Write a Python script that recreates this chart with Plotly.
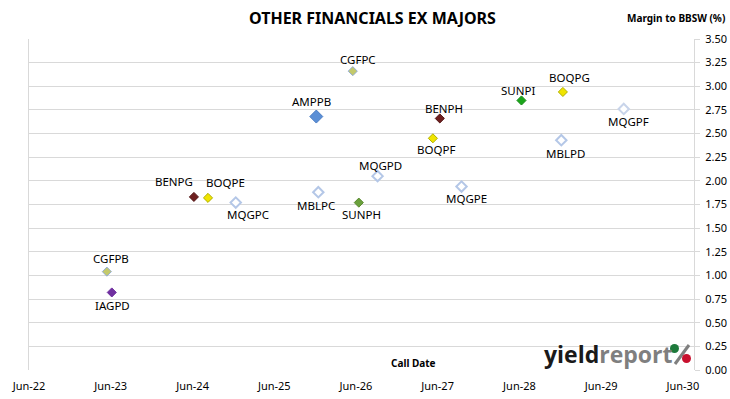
import plotly.graph_objects as go

# ---- data ----
codes = ["CGFPB", "IAGPD", "BENPG", "BOQPE", "MQGPC", "AMPPB", "MBLPC", "CGFPC", "SUNPH",
         "MQGPD", "BOQPF", "BENPH", "MQGPE", "SUNPI", "MBLPD", "BOQPG", "MQGPF"]
call_dates = ["2023-05-15", "2023-06-06", "2024-06-07", "2024-08-09", "2024-12-11", "2025-12-06",
              "2025-12-15", "2026-05-18", "2026-06-14", "2026-09-06", "2027-05-11", "2027-06-11",
              "2027-09-16", "2028-06-10", "2028-12-05", "2028-12-12", "2029-09-10"]
margins = [1.04, 0.82, 1.83, 1.82, 1.77, 2.68, 1.88, 3.16, 1.77,
           2.05, 2.45, 2.66, 1.94, 2.85, 2.43, 2.94, 2.76]

x_tick_vals = ["2022-06-01", "2023-06-01", "2024-06-01", "2025-06-01", "2026-06-01",
               "2027-06-01", "2028-06-01", "2029-06-01", "2030-06-01"]
x_tick_text = ["Jun-22", "Jun-23", "Jun-24", "Jun-25", "Jun-26", "Jun-27", "Jun-28", "Jun-29", "Jun-30"]
y_tick_vals = [i * 0.25 for i in range(15)]
y_tick_text = [f"{v:.2f}" for v in y_tick_vals]

# ---- styles: fill, outline, size, label offset (dx, dy in px; +dy = below) ----
styles = {
    "CGFPB": ("#c3c96b", "#93acd6", 7, (4, -13)),
    "IAGPD": ("#7030a0", "#7030a0", 7, (1, 13)),
    "BENPG": ("#6e1f1f", "#521515", 7, (-20, -15)),
    "BOQPE": ("#f0e400", "#b0b000", 7, (17, -15)),
    "MQGPC": ("#ffffff", "#b4c7e7", 8, (12, 12)),
    "AMPPB": ("#5b8fd6", "#4a7cc4", 10, (-5, -15)),
    "MBLPC": ("#ffffff", "#b4c7e7", 8, (-2, 13)),
    "CGFPC": ("#c3c96b", "#93acd6", 7, (5, -12)),
    "SUNPH": ("#6aa03c", "#5a8a30", 7, (3, 12)),
    "MQGPD": ("#ffffff", "#b4c7e7", 8, (3, -11)),
    "BOQPF": ("#f0e400", "#b0b000", 7, (3, 11)),
    "BENPH": ("#6e1f1f", "#521515", 7, (4, -10)),
    "MQGPE": ("#ffffff", "#b4c7e7", 8, (5, 12)),
    "SUNPI": ("#1aa51a", "#168a16", 7, (-3, -10)),
    "MBLPD": ("#ffffff", "#b4c7e7", 8, (4, 13)),
    "BOQPG": ("#f0e400", "#b0b000", 7, (7, -14)),
    "MQGPF": ("#ffffff", "#c8d4ea", 8, (5, 13)),
}

fig = go.Figure()
fig.add_trace(go.Scatter(
    x=call_dates, y=margins, mode="markers",
    marker=dict(symbol="diamond", opacity=1,
                color=[styles[c][0] for c in codes],
                size=[styles[c][2] for c in codes],
                line=dict(color=[styles[c][1] for c in codes],
                          width=[2 if styles[c][0] == "#ffffff" else 1 for c in codes])),
    showlegend=False, cliponaxis=False, hoverinfo="skip",
))

L, R, T, B = 29, 36, 39, 29
W, H = 730, 399
pw, ph = W - L - R, H - T - B


def px(x):
    return (x - L) / pw


def py(y):
    return (H - B - y) / ph


label_annots = [
    dict(text=c, x=d, y=v, xref="x", yref="y", showarrow=False,
         xshift=styles[c][3][0], yshift=-styles[c][3][1],
         xanchor="center", yanchor="middle",
         font=dict(family="Noto Sans", size=11.5, color="#000000"))
    for c, d, v in zip(codes, call_dates, margins)
]

fig.update_layout(
    width=W, height=H, margin=dict(l=L, r=R, t=T, b=B, autoexpand=False),
    paper_bgcolor="white", plot_bgcolor="white",
    font=dict(family="Noto Sans", size=11, color="#000000"),
    xaxis=dict(type="date", range=["2022-06-01", "2030-07-21"], tickvals=x_tick_vals,
               ticktext=x_tick_text, showgrid=False, zeroline=False, ticks="", automargin=False,
               tickfont=dict(family="Noto Sans", size=11, color="#000000"), ticklabelstandoff=8),
    yaxis=dict(range=[0, 3.5], side="right", tickvals=y_tick_vals, ticktext=y_tick_text,
               showgrid=True, gridcolor="#d9d9d9", gridwidth=1, zeroline=False, automargin=False,
               showline=True, mirror=True, linecolor="#d9d9d9", linewidth=1,
               ticks="outside", ticklen=5, tickcolor="#d9d9d9",
               tickfont=dict(family="Noto Sans", size=11, color="#000000"), ticklabelstandoff=3),
    annotations=label_annots + [
        dict(text="<b>OTHER FINANCIALS EX MAJORS</b>", x=px(372), y=py(18), xref="paper", yref="paper",
             showarrow=False, font=dict(family="Noto Sans", size=16, color="#000000"),
             xanchor="center", yanchor="middle"),
        dict(text="<b>Margin to BBSW (%)</b>", x=px(727), y=py(18), xref="paper", yref="paper",
             showarrow=False, font=dict(family="Noto Sans", size=10, color="#000000"),
             xanchor="right", yanchor="middle"),
        dict(text="<b>Call Date</b>", x=px(413), y=py(363), xref="paper", yref="paper",
             showarrow=False, font=dict(family="Noto Sans", size=10, color="#000000"),
             xanchor="center", yanchor="middle"),
        dict(text="<b><span style='color:#1a1a1a'>yield</span><span style='color:#7f7f7f'>report</span></b>",
             x=px(542), y=py(354), xref="paper", yref="paper", showarrow=False,
             font=dict(family="Open Sans", size=23), xanchor="left", yanchor="middle"),
    ],
    shapes=[
        dict(type="line", xref="paper", yref="paper", x0=px(689), y0=py(345), x1=px(675), y1=py(364),
             line=dict(color="#7f7f7f", width=3)),
        dict(type="circle", xref="paper", yref="paper", x0=px(670), x1=px(679), y0=py(344), y1=py(353),
             fillcolor="#1e7a3c", line=dict(width=0)),
        dict(type="circle", xref="paper", yref="paper", x0=px(682), x1=px(691), y0=py(354), y1=py(363),
             fillcolor="#c8102e", line=dict(width=0)),
    ],
)

fig.write_html("out.html", config={"displayModeBar": False, "staticPlot": True},
               post_script="document.body.style.margin='0';document.body.style.overflow='hidden';")
